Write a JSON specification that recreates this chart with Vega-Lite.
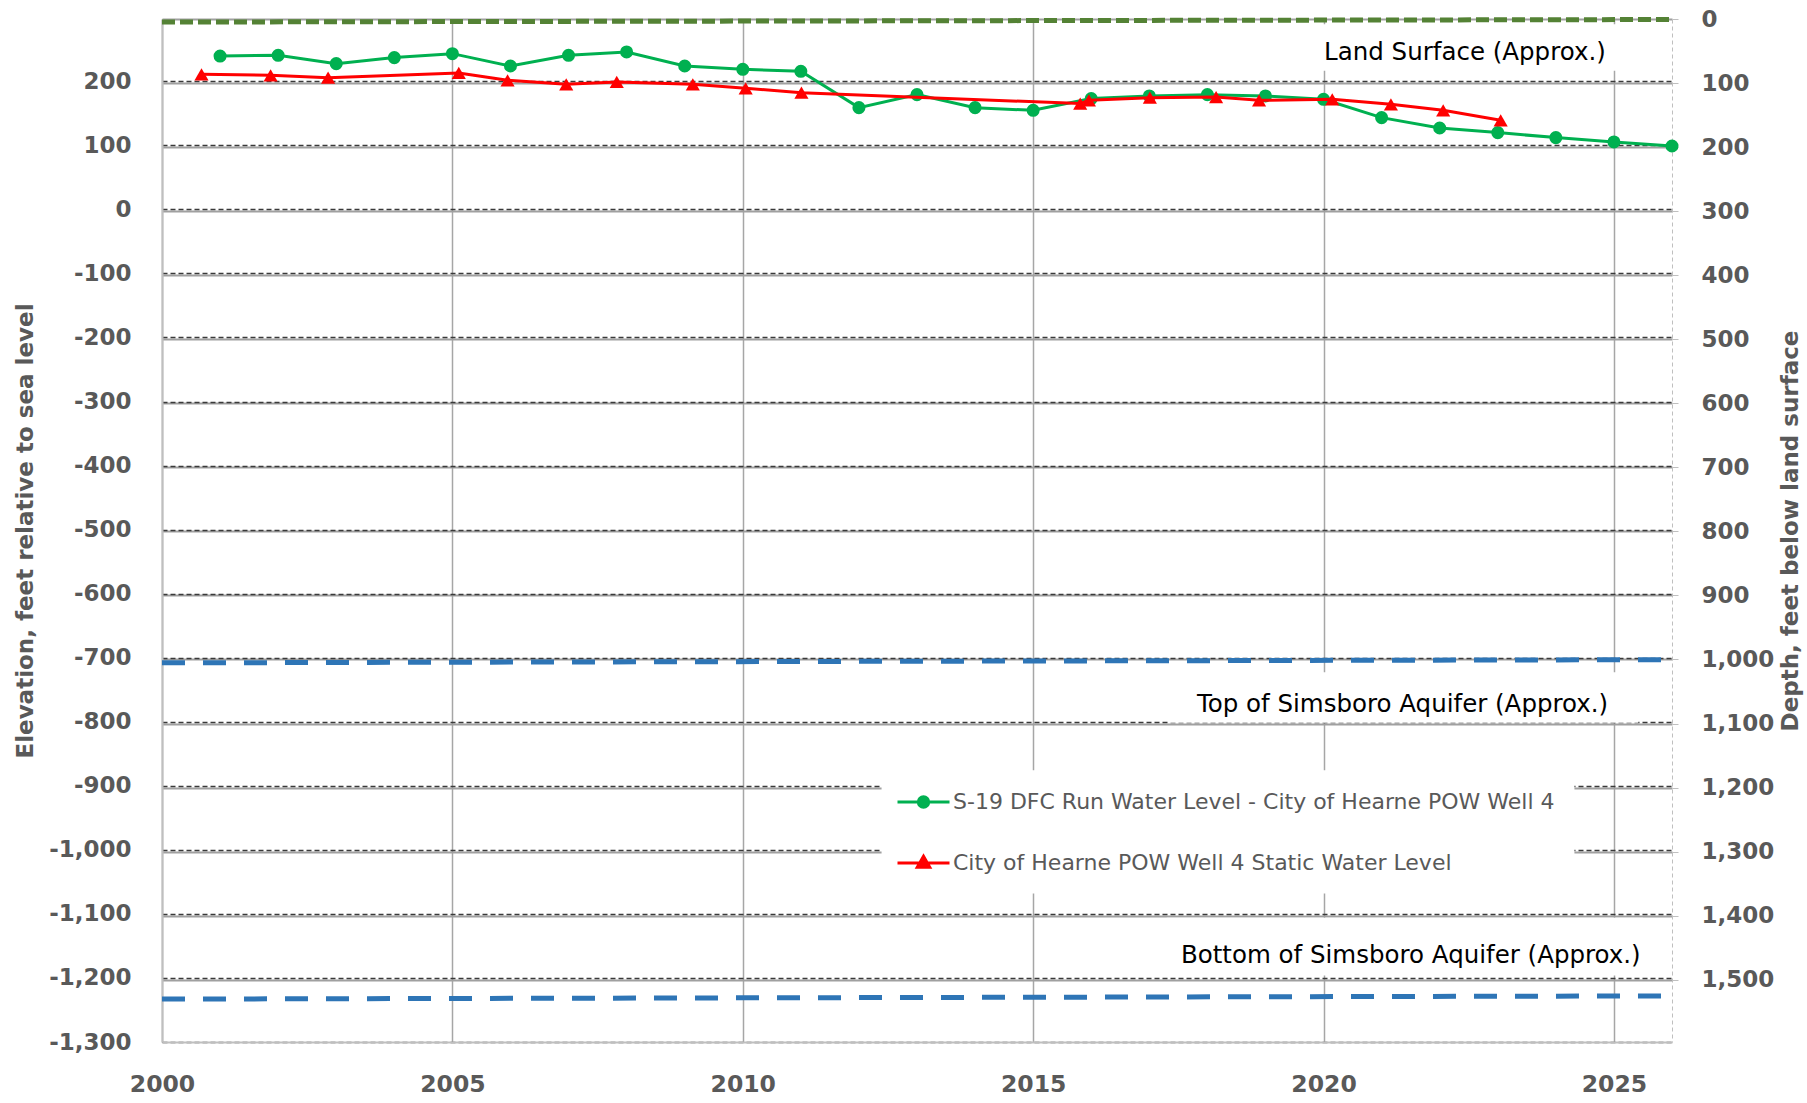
{
  "$schema": "https://vega.github.io/schema/vega-lite/v6.json",
  "width": 1510,
  "height": 1023,
  "autosize": {"type": "none"},
  "padding": {"left": 162, "top": 19, "right": 135, "bottom": 61},
  "background": "white",
  "config": {"view": {"stroke": null}, "font": "DejaVu Sans"},
  "datasets": {
    "series": [
      {"series": "S-19 DFC Run Water Level - City of Hearne POW Well 4", "year": 2001, "elev": 239.5},
      {"series": "S-19 DFC Run Water Level - City of Hearne POW Well 4", "year": 2002, "elev": 240.6},
      {"series": "S-19 DFC Run Water Level - City of Hearne POW Well 4", "year": 2003, "elev": 227.6},
      {"series": "S-19 DFC Run Water Level - City of Hearne POW Well 4", "year": 2004, "elev": 237.0},
      {"series": "S-19 DFC Run Water Level - City of Hearne POW Well 4", "year": 2005, "elev": 243.2},
      {"series": "S-19 DFC Run Water Level - City of Hearne POW Well 4", "year": 2006, "elev": 223.9},
      {"series": "S-19 DFC Run Water Level - City of Hearne POW Well 4", "year": 2007, "elev": 240.6},
      {"series": "S-19 DFC Run Water Level - City of Hearne POW Well 4", "year": 2008, "elev": 245.8},
      {"series": "S-19 DFC Run Water Level - City of Hearne POW Well 4", "year": 2009, "elev": 223.9},
      {"series": "S-19 DFC Run Water Level - City of Hearne POW Well 4", "year": 2010, "elev": 218.7},
      {"series": "S-19 DFC Run Water Level - City of Hearne POW Well 4", "year": 2011, "elev": 215.6},
      {"series": "S-19 DFC Run Water Level - City of Hearne POW Well 4", "year": 2012, "elev": 158.9},
      {"series": "S-19 DFC Run Water Level - City of Hearne POW Well 4", "year": 2013, "elev": 179.2},
      {"series": "S-19 DFC Run Water Level - City of Hearne POW Well 4", "year": 2014, "elev": 158.9},
      {"series": "S-19 DFC Run Water Level - City of Hearne POW Well 4", "year": 2015, "elev": 154.7},
      {"series": "S-19 DFC Run Water Level - City of Hearne POW Well 4", "year": 2016, "elev": 173.0},
      {"series": "S-19 DFC Run Water Level - City of Hearne POW Well 4", "year": 2017, "elev": 177.1},
      {"series": "S-19 DFC Run Water Level - City of Hearne POW Well 4", "year": 2018, "elev": 179.2},
      {"series": "S-19 DFC Run Water Level - City of Hearne POW Well 4", "year": 2019, "elev": 177.1},
      {"series": "S-19 DFC Run Water Level - City of Hearne POW Well 4", "year": 2020, "elev": 171.9},
      {"series": "S-19 DFC Run Water Level - City of Hearne POW Well 4", "year": 2021, "elev": 143.3},
      {"series": "S-19 DFC Run Water Level - City of Hearne POW Well 4", "year": 2022, "elev": 127.1},
      {"series": "S-19 DFC Run Water Level - City of Hearne POW Well 4", "year": 2023, "elev": 119.9},
      {"series": "S-19 DFC Run Water Level - City of Hearne POW Well 4", "year": 2024, "elev": 112.1},
      {"series": "S-19 DFC Run Water Level - City of Hearne POW Well 4", "year": 2025, "elev": 105.3},
      {"series": "S-19 DFC Run Water Level - City of Hearne POW Well 4", "year": 2026, "elev": 99.0},
      {"series": "City of Hearne POW Well 4 Static Water Level", "year": 2000.68, "elev": 210.9},
      {"series": "City of Hearne POW Well 4 Static Water Level", "year": 2001.87, "elev": 209.4},
      {"series": "City of Hearne POW Well 4 Static Water Level", "year": 2002.86, "elev": 205.7},
      {"series": "City of Hearne POW Well 4 Static Water Level", "year": 2005.11, "elev": 213.0},
      {"series": "City of Hearne POW Well 4 Static Water Level", "year": 2005.95, "elev": 201.6},
      {"series": "City of Hearne POW Well 4 Static Water Level", "year": 2006.96, "elev": 195.3},
      {"series": "City of Hearne POW Well 4 Static Water Level", "year": 2007.83, "elev": 199.0},
      {"series": "City of Hearne POW Well 4 Static Water Level", "year": 2009.14, "elev": 195.3},
      {"series": "City of Hearne POW Well 4 Static Water Level", "year": 2010.05, "elev": 189.1},
      {"series": "City of Hearne POW Well 4 Static Water Level", "year": 2011.01, "elev": 182.3},
      {"series": "City of Hearne POW Well 4 Static Water Level", "year": 2015.81, "elev": 165.2},
      {"series": "City of Hearne POW Well 4 Static Water Level", "year": 2015.96, "elev": 170.3},
      {"series": "City of Hearne POW Well 4 Static Water Level", "year": 2017.01, "elev": 174.5},
      {"series": "City of Hearne POW Well 4 Static Water Level", "year": 2018.15, "elev": 175.5},
      {"series": "City of Hearne POW Well 4 Static Water Level", "year": 2018.89, "elev": 170.3},
      {"series": "City of Hearne POW Well 4 Static Water Level", "year": 2020.15, "elev": 171.9},
      {"series": "City of Hearne POW Well 4 Static Water Level", "year": 2021.16, "elev": 164.1},
      {"series": "City of Hearne POW Well 4 Static Water Level", "year": 2022.06, "elev": 154.7},
      {"series": "City of Hearne POW Well 4 Static Water Level", "year": 2023.05, "elev": 139.1}
    ],
    "refs": [
      {"line": "Land Surface", "year": 2000, "elev": 292.5},
      {"line": "Land Surface", "year": 2026, "elev": 296.5},
      {"line": "Top of Simsboro", "year": 2000, "elev": -708},
      {"line": "Top of Simsboro", "year": 2026, "elev": -703},
      {"line": "Bottom of Simsboro", "year": 2000, "elev": -1233},
      {"line": "Bottom of Simsboro", "year": 2026, "elev": -1228}
    ],
    "notes": [
      {"label": "Land Surface (Approx.)", "year": 2024.86, "elev": 244.5},
      {"label": "Top of Simsboro Aquifer (Approx.)", "year": 2024.9, "elev": -774.2},
      {"label": "Bottom of Simsboro Aquifer (Approx.)", "year": 2025.46, "elev": -1166}
    ],
    "boxes": [
      {"box": "Land Surface label", "year": 2019.5, "year2": 2025.5, "elev": 289, "elev2": 216.5},
      {"box": "Top label", "year": 2017.35, "year2": 2025.42, "elev": -722.7, "elev2": -801.5},
      {"box": "Bottom label", "year": 2017.3, "year2": 2025.5, "elev": -1106, "elev2": -1196},
      {"box": "Legend", "year": 2012.39, "year2": 2024.32, "elev": -875.7, "elev2": -1068}
    ],
    "depthAxis": [{"depth": 0}, {"depth": 1500}]
  },
  "layer": [
    {
      "data": {"name": "depthAxis"},
      "mark": {"type": "rule", "opacity": 0},
      "encoding": {
        "y": {
          "field": "depth", "type": "quantitative",
          "scale": {"domain": [0, 1597.3], "reverse": true, "nice": false, "zero": false},
          "axis": {
            "orient": "right",
            "values": [0, 100, 200, 300, 400, 500, 600, 700, 800, 900, 1000, 1100, 1200, 1300, 1400, 1500],
            "labelExpr": "format(datum.value, ',')",
            "labelFont": "DejaVu Sans", "labelFontWeight": "bold", "labelFontSize": 23, "labelColor": "#595959",
            "labelAlign": "left", "labelBaseline": "middle",
            "labelPadding": 23, "labelOverlap": false, "labelFlush": false, "labelBound": false,
            "ticks": true, "tickSize": 6, "tickColor": "#BFBFBF", "tickWidth": 1,
            "grid": true, "gridColor": "#A0A0A0", "gridWidth": 1.8,
            "domain": true, "domainColor": "#BFBFBF", "domainDash": [4, 3], "domainWidth": 1,
            "title": "Depth, feet below land surface",
            "titleFont": "DejaVu Sans", "titleFontWeight": "bold", "titleFontSize": 23, "titleColor": "#595959",
            "titleAngle": 270, "titleX": 118, "titleY": 511.5, "titleAlign": "center", "titleBaseline": "middle"
          }
        }
      }
    },
    {
      "encoding": {
        "x": {
          "field": "year", "type": "quantitative",
          "scale": {"domain": [2000, 2026], "nice": false, "zero": false},
          "axis": {
            "values": [2000, 2005, 2010, 2015, 2020, 2025],
            "format": "d",
            "labelFont": "DejaVu Sans", "labelFontWeight": "bold", "labelFontSize": 23.5, "labelColor": "#595959",
            "labelPadding": 30, "labelFlush": false, "labelOverlap": false, "labelBound": false,
            "ticks": false,
            "grid": true, "gridColor": "#A6A6A6", "gridWidth": 1.5,
            "domain": true, "domainColor": "#BFBFBF", "domainWidth": 2,
            "title": null
          }
        },
        "y": {
          "field": "elev", "type": "quantitative",
          "scale": {"domain": [-1300, 297.3], "nice": false, "zero": false},
          "axis": {
            "orient": "left",
            "values": [-1300, -1200, -1100, -1000, -900, -800, -700, -600, -500, -400, -300, -200, -100, 0, 100, 200],
            "labelExpr": "(datum.value < 0 ? '-' : '') + format(abs(datum.value), ',')",
            "labelFont": "DejaVu Sans", "labelFontWeight": "bold", "labelFontSize": 23, "labelColor": "#595959",
            "labelPadding": 31, "labelOverlap": false, "labelFlush": false, "labelBound": false,
            "ticks": false,
            "grid": true, "gridColor": "#3A3A3A", "gridDash": [5, 3], "gridWidth": 1.4,
            "domain": true, "domainColor": "#BFBFBF", "domainWidth": 2,
            "title": "Elevation, feet relative to sea level",
            "titleFont": "DejaVu Sans", "titleFontWeight": "bold", "titleFontSize": 23, "titleColor": "#595959",
            "titlePadding": 11
          }
        }
      },
      "layer": [
        {
          "data": {"name": "boxes"},
          "mark": {"type": "rect", "fill": "white", "stroke": null},
          "encoding": {
            "x2": {"field": "year2"},
            "y2": {"field": "elev2"}
          }
        },
        {
          "data": {"name": "refs"},
          "transform": [{"filter": "datum.line === 'Land Surface'"}],
          "mark": {"type": "line", "color": "#548235", "strokeWidth": 5, "strokeDash": [13, 5]},
          "encoding": {}
        },
        {
          "data": {"name": "refs"},
          "transform": [{"filter": "datum.line === 'Top of Simsboro'"}],
          "mark": {"type": "line", "color": "#2E75B6", "strokeWidth": 5, "strokeDash": [23, 18]},
          "encoding": {}
        },
        {
          "data": {"name": "refs"},
          "transform": [{"filter": "datum.line === 'Bottom of Simsboro'"}],
          "mark": {"type": "line", "color": "#2E75B6", "strokeWidth": 5, "strokeDash": [23, 18]},
          "encoding": {}
        },
        {
          "data": {"name": "series"},
          "transform": [{"filter": "datum.series === 'S-19 DFC Run Water Level - City of Hearne POW Well 4'"}],
          "mark": {"type": "line", "strokeWidth": 3, "color": "#00B050"},
          "encoding": {}
        },
        {
          "data": {"name": "series"},
          "transform": [{"filter": "datum.series === 'S-19 DFC Run Water Level - City of Hearne POW Well 4'"}],
          "mark": {"type": "point", "shape": "circle", "filled": true, "size": 170, "opacity": 1, "color": "#00B050"},
          "encoding": {}
        },
        {
          "data": {"name": "series"},
          "transform": [{"filter": "datum.series === 'City of Hearne POW Well 4 Static Water Level'"}],
          "mark": {"type": "line", "strokeWidth": 3, "color": "#FF0000"},
          "encoding": {}
        },
        {
          "data": {"name": "series"},
          "transform": [{"filter": "datum.series === 'City of Hearne POW Well 4 Static Water Level'"}],
          "mark": {"type": "point", "shape": "triangle-up", "filled": true, "size": 200, "opacity": 1, "color": "#FF0000"},
          "encoding": {}
        },
        {
          "data": {"name": "series"},
          "mark": {"type": "point", "filled": false, "opacity": 0, "strokeWidth": 3},
          "encoding": {
            "color": {
              "field": "series", "type": "nominal",
              "scale": {
                "domain": ["S-19 DFC Run Water Level - City of Hearne POW Well 4", "City of Hearne POW Well 4 Static Water Level"],
                "range": ["#00B050", "#FF0000"]
              },
              "legend": {
                "orient": "none", "legendX": 734, "legendY": 755.5, "direction": "vertical",
                "title": null, "padding": 0, "rowPadding": 22,
                "labelFont": "DejaVu Sans", "labelFontSize": 22, "labelColor": "#595959", "labelOffset": 2, "labelLimit": 1000,
                "symbolSize": 2704, "symbolStrokeWidth": 3, "symbolOpacity": 1
              }
            },
            "shape": {
              "field": "series", "type": "nominal",
              "scale": {
                "domain": ["S-19 DFC Run Water Level - City of Hearne POW Well 4", "City of Hearne POW Well 4 Static Water Level"],
                "range": [
                  "M-1,0L1,0M0.2,0A0.2,0.2 0 1,1 -0.2,0A0.2,0.2 0 1,1 0.2,0M0.09,0A0.09,0.09 0 1,1 -0.09,0A0.09,0.09 0 1,1 0.09,0",
                  "M-1,0L1,0M0,-0.26L0.24,0.16L-0.24,0.16ZM0,-0.11L0.1,0.07L-0.1,0.07Z"
                ]
              },
              "legend": {
                "orient": "none", "legendX": 734, "legendY": 755.5, "direction": "vertical",
                "title": null, "padding": 0, "rowPadding": 22,
                "labelFont": "DejaVu Sans", "labelFontSize": 22, "labelColor": "#595959", "labelOffset": 2, "labelLimit": 1000,
                "symbolSize": 2704, "symbolStrokeWidth": 3, "symbolOpacity": 1
              }
            }
          }
        },
        {
          "data": {"name": "notes"},
          "mark": {"type": "text", "align": "right", "baseline": "middle", "font": "DejaVu Sans", "fontSize": 24.5, "color": "black"},
          "encoding": {"text": {"field": "label"}}
        }
      ]
    }
  ],
  "resolve": {"scale": {"y": "independent"}, "axis": {"y": "independent"}}
}
